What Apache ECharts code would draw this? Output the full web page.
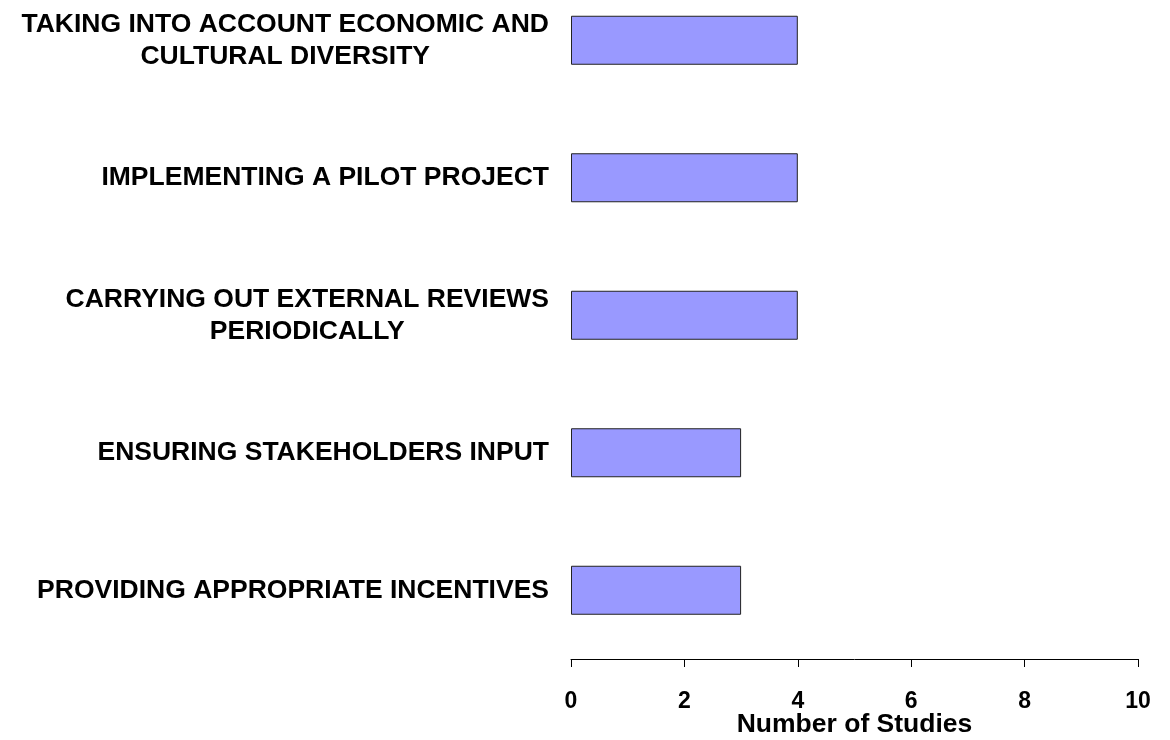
<!DOCTYPE html>
<html>
<head>
<meta charset="utf-8">
<script src="https://cdn.jsdelivr.net/npm/echarts@6/dist/echarts.min.js"></script>
<style>
  html, body { margin: 0; padding: 0; background: #fff; }
  #chart { width: 1170px; height: 740px; }
</style>
</head>
<body>
<div id="chart"></div>
<script>
// categories top to bottom
var categories = [
  'TAKING INTO ACCOUNT ECONOMIC AND\nCULTURAL DIVERSITY',
  'IMPLEMENTING A PILOT PROJECT',
  'CARRYING OUT EXTERNAL REVIEWS\nPERIODICALLY',
  'ENSURING STAKEHOLDERS INPUT',
  'PROVIDING APPROPRIATE INCENTIVES'
]
var studies = [4, 4, 4, 3, 3]
var xTicks = [0, 2, 4, 6, 8, 10]
var xName = 'Number of Studies'

var font = '"Liberation Sans", Arial, sans-serif'

var chart = echarts.init(document.getElementById('chart'))

var option = {
  backgroundColor: '#fff',
  animation: false,
  grid: {
    left: 571,
    right: 32,
    top: -28.5,
    bottom: 81,
    containLabel: false,
    outerBoundsMode: 'none'
  },
  xAxis: {
    type: 'value',
    min: xTicks[0],
    max: xTicks[xTicks.length - 1],
    interval: xTicks[1] - xTicks[0],
    name: xName,
    nameLocation: 'middle',
    nameGap: 52,
    nameMoveOverlap: false,
    nameTextStyle: {
      color: '#000',
      fontFamily: font,
      fontWeight: 'bold',
      fontSize: 26.5
    },
    axisLine: { show: true, lineStyle: { color: '#000', width: 1 } },
    axisTick: { show: true, inside: false, length: 8, lineStyle: { color: '#000' } },
    axisLabel: {
      color: '#000',
      fontFamily: font,
      fontWeight: 'bold',
      fontSize: 23,
      margin: 31
    },
    splitLine: { show: false }
  },
  yAxis: {
    type: 'category',
    data: categories,
    inverse: true,
    axisLine: { show: false },
    axisTick: { show: false },
    axisLabel: {
      margin: 22,
      align: 'right',
      // center each line of a wrapped label inside its block
      formatter: function (v) {
        return v.split('\n').map(function (s) { return '{c|' + s + '}' }).join('\n')
      },
      rich: {
        c: {
          align: 'center',
          color: '#000',
          fontFamily: font,
          fontWeight: 'bold',
          fontSize: 26.5,
          lineHeight: 32
        }
      }
    }
  },
  series: [{
    type: 'bar',
    data: studies,
    barWidth: 49,
    itemStyle: {
      color: '#9999FF',
      borderColor: '#222',
      borderWidth: 1
    }
  }]
}

chart.setOption(option)
</script>
</body>
</html>
